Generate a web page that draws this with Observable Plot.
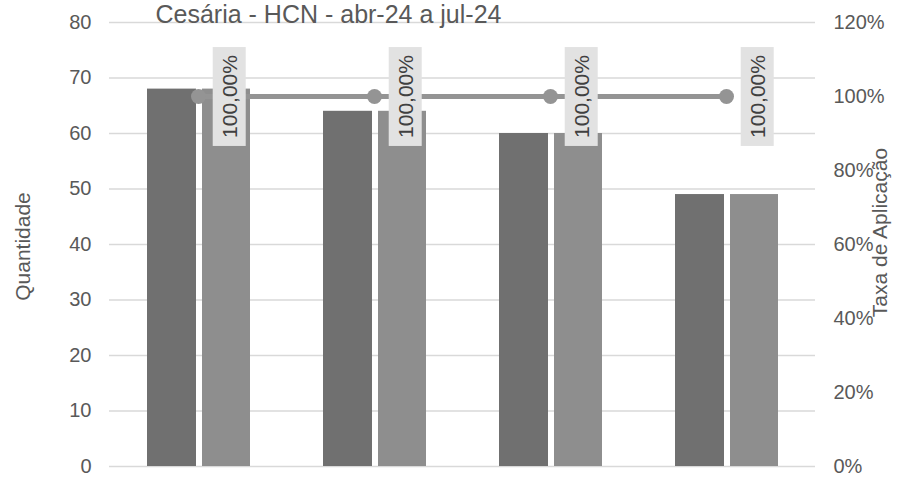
<!DOCTYPE html>
<html><head><meta charset="utf-8">
<script src="https://cdn.jsdelivr.net/npm/d3@7"></script>
<script src="https://cdn.jsdelivr.net/npm/@observablehq/plot@0.6"></script>
<style>
body{margin:0;background:#fff}
#chart svg{font-family:"Liberation Sans",Arial,sans-serif;display:block}
</style>
</head><body><div id="chart"></div>
<script>
const title = "Cesária - HCN - abr-24 a jul-24";
const leftTitle = "Quantidade";
const rightTitle = "Taxa de Aplicação";
const months = ["abr-24", "mai-24", "jun-24", "jul-24"];
const elegiveis = [68, 64, 60, 49];
const aplicados = [68, 64, 60, 49];
const taxa = [1.0, 1.0, 1.0, 1.0];
const leftTicks = [0, 10, 20, 30, 40, 50, 60, 70, 80];
const rightTicks = [0, 0.2, 0.4, 0.6, 0.8, 1.0, 1.2];
const yMax = 80, rMax = 1.2;
const toY = r => r / rMax * yMax;

const barsA = months.map((m, i) => ({month: m, value: elegiveis[i]}));
const barsB = months.map((m, i) => ({month: m, value: aplicados[i]}));
const rate = months.map((m, i) => ({month: m, rate: taxa[i]}));
const pct = v => (v * 100).toFixed(2).replace(".", ",") + "%";
const labelTexts = new Set(rate.map(d => pct(d.rate)));

const chart = Plot.plot({
  width: 897, height: 477,
  marginLeft: 109, marginRight: 82, marginTop: 22, marginBottom: 11,
  style: {fontFamily: "'Liberation Sans', Arial, sans-serif", fontSize: "20px", color: "#595959", background: "#fff"},
  x: {domain: months, padding: 0, axis: null},
  y: {domain: [0, yMax], axis: null},
  marks: [
    Plot.ruleY(leftTicks, {stroke: "#d9d9d9", strokeWidth: 1.3}),
    Plot.barY(barsA, {x: "month", y: "value", fill: "#707070", insetLeft: 37, insetRight: 90}),
    Plot.barY(barsB, {x: "month", y: "value", fill: "#8e8e8e", insetLeft: 92, insetRight: 36}),
    Plot.line(rate, {x: "month", y: d => toY(d.rate), stroke: "#949494", strokeWidth: 5}),
    Plot.dot(rate, {x: "month", y: d => toY(d.rate), r: 7.5, fill: "#949494"}),
    Plot.text(rate, {x: "month", y: d => toY(d.rate), text: d => pct(d.rate), rotate: -90, dx: 31.5,
      textAnchor: "middle", fill: "#404040", fontSize: 21}),
    Plot.axisY(leftTicks, {anchor: "left", tickSize: 0, tickPadding: 18, fontSize: 20, label: null, fill: "#595959"}),
    Plot.axisY(rightTicks.map(toY), {anchor: "right", tickSize: 0, tickPadding: 18, fontSize: 20, label: null, fill: "#595959",
      tickFormat: v => Math.round(v / yMax * rMax * 100) + "%"}),
    Plot.text([leftTitle], {text: d => d, frameAnchor: "left", textAnchor: "middle", dx: -86, dy: 2, rotate: -90, fontSize: 21, fill: "#595959"}),
    Plot.text([rightTitle], {text: d => d, frameAnchor: "right", textAnchor: "middle", dx: 65, dy: -12, rotate: -90, fontSize: 21, fill: "#595959"}),
    Plot.text([title], {text: d => d, frameAnchor: "top-left", textAnchor: "start", lineAnchor: "bottom", dx: 46, dy: 0, fontSize: 25, fill: "#595959"})
  ]
});
document.getElementById("chart").append(chart);
chart.querySelectorAll("text").forEach(t => {
  const tr = t.getAttribute("transform") || "";
  if (!labelTexts.has(t.textContent) || !tr.includes("rotate")) return;
  const b = t.getBBox();
  const r = document.createElementNS("http://www.w3.org/2000/svg", "rect");
  r.setAttribute("x", b.x - 8);
  r.setAttribute("y", b.y - 5);
  r.setAttribute("width", b.width + 16);
  r.setAttribute("height", b.height + 10);
  r.setAttribute("transform", tr);
  r.setAttribute("fill", "#e2e2e2");
  t.parentNode.insertBefore(r, t);
});
</script>
</body></html>
